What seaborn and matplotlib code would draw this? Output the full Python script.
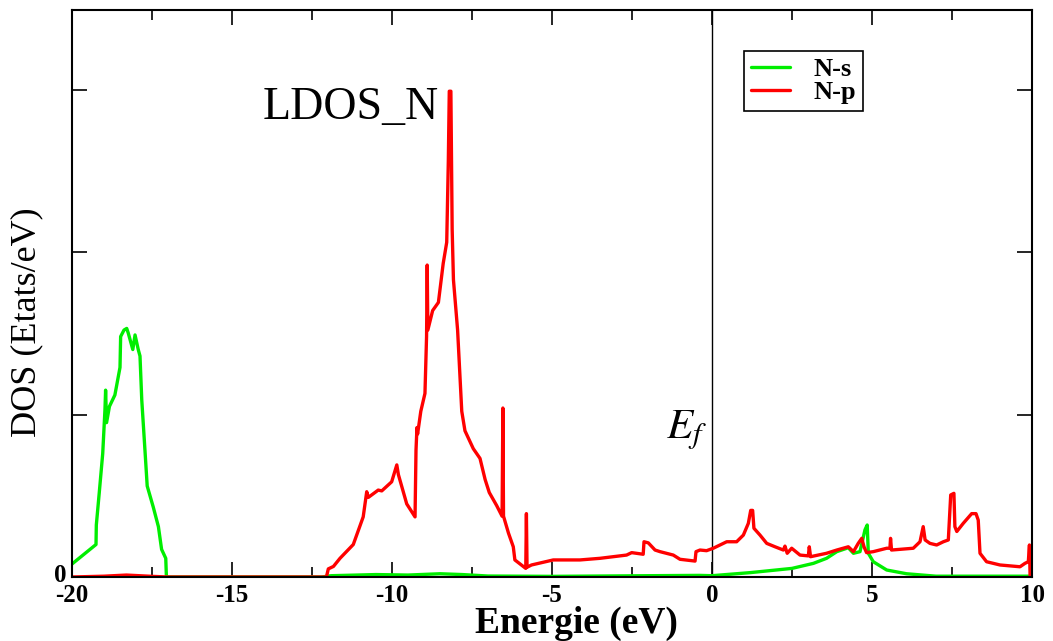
import numpy as np
import pandas as pd
import seaborn as sns
import matplotlib
matplotlib.use("Agg")
import matplotlib.pyplot as plt
import matplotlib.transforms as mtransforms
from matplotlib.ticker import MultipleLocator, FixedLocator

# ---------------- data ----------------
ns_energy = [-20.0, -19.25, -19.24, -19.15, -19.04, -18.97, -18.95, -18.92, -18.83, -18.66,
             -18.50, -18.48, -18.375, -18.29, -18.24, -18.10, -18.03, -17.93, -17.875, -17.82,
             -17.72, -17.65, -17.46, -17.30, -17.20, -17.07, -17.05, -12.2, -11.9, -10.5,
             -9.5, -8.5, -7.8, -7.0, -5.0, -2.0, -0.4, 0.0, 1.2, 2.5,
             3.17, 3.58, 3.9, 4.26, 4.42, 4.625, 4.78, 4.85, 4.885, 5.04,
             5.46, 6.08, 7.0, 10.0]
ns_dos = [0.08, 0.20, 0.32, 0.515, 0.76, 1.03, 1.15, 0.95, 1.05, 1.12,
          1.29, 1.48, 1.52, 1.53, 1.50, 1.40, 1.49, 1.40, 1.36, 1.09,
          0.78, 0.56, 0.43, 0.31, 0.17, 0.115, 0.0, 0.0, 0.008, 0.015,
          0.012, 0.02, 0.015, 0.006, 0.004, 0.008, 0.01, 0.008, 0.027, 0.053,
          0.084, 0.115, 0.156, 0.18, 0.146, 0.156, 0.29, 0.32, 0.146, 0.094,
          0.043, 0.02, 0.005, 0.005]

np_energy = [-20.0, -19.0, -18.3, -17.5, -17.0, -12.05, -11.99, -11.83, -11.625, -11.21,
             -10.9, -10.79, -10.74, -10.43, -10.32, -10.01, -9.85, -9.80, -9.54, -9.28,
             -9.25, -9.22, -9.20, -9.10, -8.97, -8.92, -8.90, -8.88, -8.73, -8.55,
             -8.40, -8.29, -8.24, -8.21, -8.16, -8.12, -8.08, -7.95, -7.82, -7.72,
             -7.46, -7.25, -7.09, -6.96, -6.73, -6.56, -6.535, -6.515, -6.36, -6.21,
             -6.16, -5.82, -5.80, -5.78, -5.64, -4.96, -4.125, -3.5, -2.67, -2.51,
             -2.15, -2.125, -1.99, -1.78, -1.625, -1.21, -1.0, -0.53, -0.5, -0.375,
             -0.17, 0.04, 0.46, 0.77, 0.98, 1.135, 1.21, 1.27, 1.31, 1.5,
             1.71, 1.97, 2.23, 2.28, 2.35, 2.49, 2.75, 3.01, 3.04, 3.08,
             3.58, 3.90, 4.26, 4.42, 4.57, 4.68, 4.75, 4.83, 5.04, 5.46,
             5.56, 5.58, 5.61, 6.29, 6.5, 6.60, 6.66, 6.81, 7.02, 7.23,
             7.385, 7.46, 7.56, 7.59, 7.65, 7.85, 8.115, 8.25, 8.32, 8.375,
             8.58, 9.0, 9.625, 9.78, 9.885, 9.92, 9.94, 10.0]
np_dos = [0.0, 0.005, 0.012, 0.004, 0.0, 0.0, 0.05, 0.065, 0.115, 0.20,
          0.37, 0.525, 0.49, 0.535, 0.53, 0.586, 0.69, 0.63, 0.45, 0.37,
          0.78, 0.92, 0.88, 1.02, 1.13, 1.48, 1.92, 1.52, 1.64, 1.69,
          1.93, 2.06, 2.56, 2.99, 2.99, 2.14, 1.83, 1.52, 1.02, 0.90,
          0.79, 0.73, 0.60, 0.52, 0.44, 0.374, 1.04, 0.374, 0.27, 0.186,
          0.105, 0.053, 0.39, 0.06, 0.074, 0.105, 0.105, 0.115, 0.135, 0.15,
          0.14, 0.217, 0.21, 0.166, 0.156, 0.135, 0.109, 0.098, 0.156, 0.166,
          0.162, 0.177, 0.217, 0.217, 0.258, 0.33, 0.41, 0.41, 0.30, 0.258,
          0.207, 0.186, 0.166, 0.19, 0.146, 0.177, 0.135, 0.13, 0.186, 0.125,
          0.146, 0.166, 0.186, 0.156, 0.207, 0.238, 0.186, 0.15, 0.156, 0.177,
          0.177, 0.238, 0.166, 0.177, 0.217, 0.31, 0.228, 0.207, 0.197, 0.217,
          0.228, 0.505, 0.515, 0.31, 0.28, 0.33, 0.39, 0.39, 0.35, 0.146,
          0.094, 0.074, 0.063, 0.084, 0.094, 0.197, 0.01, 0.0]

series_labels = ["N-s", "N-p"]
series_colors = ["#00ee00", "#ff0000"]
x_ticks = [-20, -15, -10, -5, 0, 5, 10]
x_ticklabels = ["-20", "-15", "-10", "-5", "0", "5", "10"]
y_ticks = [0, 1, 2, 3]
y_ticklabels = ["0", "", "", ""]

# ---------------- plot ----------------
sns.set_theme(style="white")
plt.rcParams["font.family"] = ["Liberation Serif", "DejaVu Serif"]
plt.rcParams["mathtext.fontset"] = "stix"
plt.rcParams["text.color"] = "black"
plt.rcParams["axes.labelcolor"] = "black"
plt.rcParams["xtick.color"] = "black"
plt.rcParams["ytick.color"] = "black"

fig = plt.figure(figsize=(10.53, 6.41), dpi=100)
ax = fig.add_axes([72 / 1053, 64 / 641, 960 / 1053, 567 / 641])

df_s = pd.DataFrame({"E": ns_energy, "DOS": ns_dos})
df_p = pd.DataFrame({"E": np_energy, "DOS": np_dos})
sns.lineplot(data=df_s, x="E", y="DOS", ax=ax, color=series_colors[0], lw=2.4,
             label=series_labels[0], sort=False, estimator=None, zorder=3)
sns.lineplot(data=df_p, x="E", y="DOS", ax=ax, color=series_colors[1], lw=2.4,
             label=series_labels[1], sort=False, estimator=None, zorder=4)

ax.axvline(0, color="black", lw=1.0, zorder=2)

ax.set_xlim(-20, 10)
ax.set_ylim(0, 3.49)

ax.xaxis.set_major_locator(FixedLocator(x_ticks))
ax.set_xticklabels(x_ticklabels)
ax.xaxis.set_minor_locator(MultipleLocator(2.5))
ax.yaxis.set_major_locator(FixedLocator(y_ticks))
ax.set_yticklabels(y_ticklabels)

ax.tick_params(axis="both", which="major", direction="in", length=11, width=1.2,
               top=True, right=True, bottom=True, left=True, colors="black",
               labelsize=18, pad=5)
ax.tick_params(axis="x", which="minor", direction="in", length=7, width=1.2,
               top=True, bottom=True, colors="black")
for lab in ax.get_xticklabels() + ax.get_yticklabels():
    lab.set_fontweight("bold")
ax.tick_params(axis="y", pad=4)

# lift the y "0" label slightly, as in the reference
offset = mtransforms.ScaledTranslation(0, 3 / 72, fig.dpi_scale_trans)
for lab in ax.get_yticklabels():
    lab.set_transform(lab.get_transform() + offset)

for sp in ax.spines.values():
    sp.set_color("black")
    sp.set_linewidth(1.5)
    sp.set_zorder(5)

ax.set_xlabel("Energie (eV)", fontsize=27, fontweight="bold", color="black")
ax.xaxis.set_label_coords(0.525, -0.051, transform=ax.transAxes)
ax.xaxis.label.set_va("top")
ax.set_ylabel("DOS (Etats/eV)", fontsize=26, color="black")
ax.yaxis.set_label_coords(-0.030, 0.45)

ax.text(-14.05, 2.89, "LDOS_N", fontsize=33, color="black", ha="left", va="center")
ax.text(-1.45, 0.9, r"$E_f$", fontsize=31, color="black", ha="left", va="center")

leg = ax.legend(loc="upper left", bbox_to_anchor=(0.70, 0.928), frameon=True,
                fancybox=False, edgecolor="black", framealpha=1,
                prop={"family": "Liberation Serif", "weight": "bold", "size": 19},
                handlelength=1.5, handletextpad=0.9, labelspacing=0.0,
                borderpad=0.25, borderaxespad=0)
leg.get_frame().set_linewidth(1.2)
for t in leg.get_texts():
    t.set_color("black")

fig.savefig("out.png", dpi=100)
